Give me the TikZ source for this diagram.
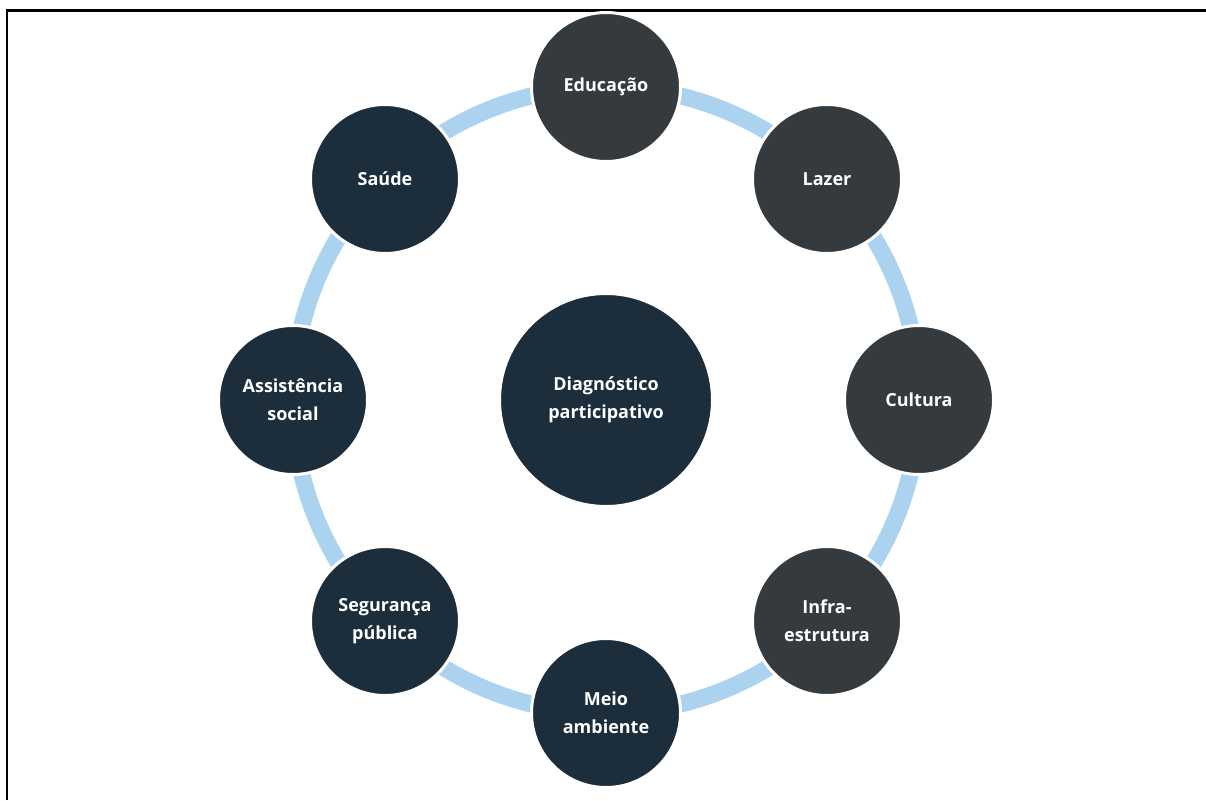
\documentclass[tikz,border=0pt]{standalone}
\usepackage{fontspec}
\setmainfont{Open Sans}
\definecolor{navy}{HTML}{1C2D3B}
\definecolor{slate}{HTML}{343A3D}
\definecolor{ringblue}{HTML}{ABD3EF}
\tikzset{
  ball/.style={circle, draw=white, line width=3pt, inner sep=0pt, minimum size=149pt,
    text=white, align=center, font=\bfseries\fontsize{18}{28}\selectfont},
  navyball/.style={ball, fill=navy},
  slateball/.style={ball, fill=slate},
  hub/.style={ball, fill=navy, minimum size=213pt},
  ring/.style={draw=ringblue, line width=17pt},
  frame/.style={draw=black, line width=2.5pt}
}
\begin{document}
\begin{tikzpicture}[x=1pt,y=-1pt]
\useasboundingbox (0,0) rectangle (1206,800);
\coordinate (o) at (606,400);
\coordinate (fb) at (7,800);
\coordinate (fc) at (7,10.5);
\coordinate (fr) at (1206,10.5);
\draw[frame] (fb) -- (fc) -- (fr);
\draw[ring] (o) circle[radius=313pt];
\node[hub] (c) at (o) {Diagnóstico\\participativo};
\node[slateball] (edu) at (606,87) {Educação};
\node[slateball] (laz) at (827,179) {Lazer};
\node[slateball] (cul) at (919,400) {Cultura};
\node[slateball] (inf) at (827,621) {Infra-\\estrutura};
\node[navyball] (mei) at (606,713) {Meio\\ambiente};
\node[navyball] (seg) at (385,621) {Segurança\\pública};
\node[navyball] (ass) at (293,400) {Assistência\\social};
\node[navyball] (sau) at (385,179) {Saúde};
\end{tikzpicture}
\end{document}
